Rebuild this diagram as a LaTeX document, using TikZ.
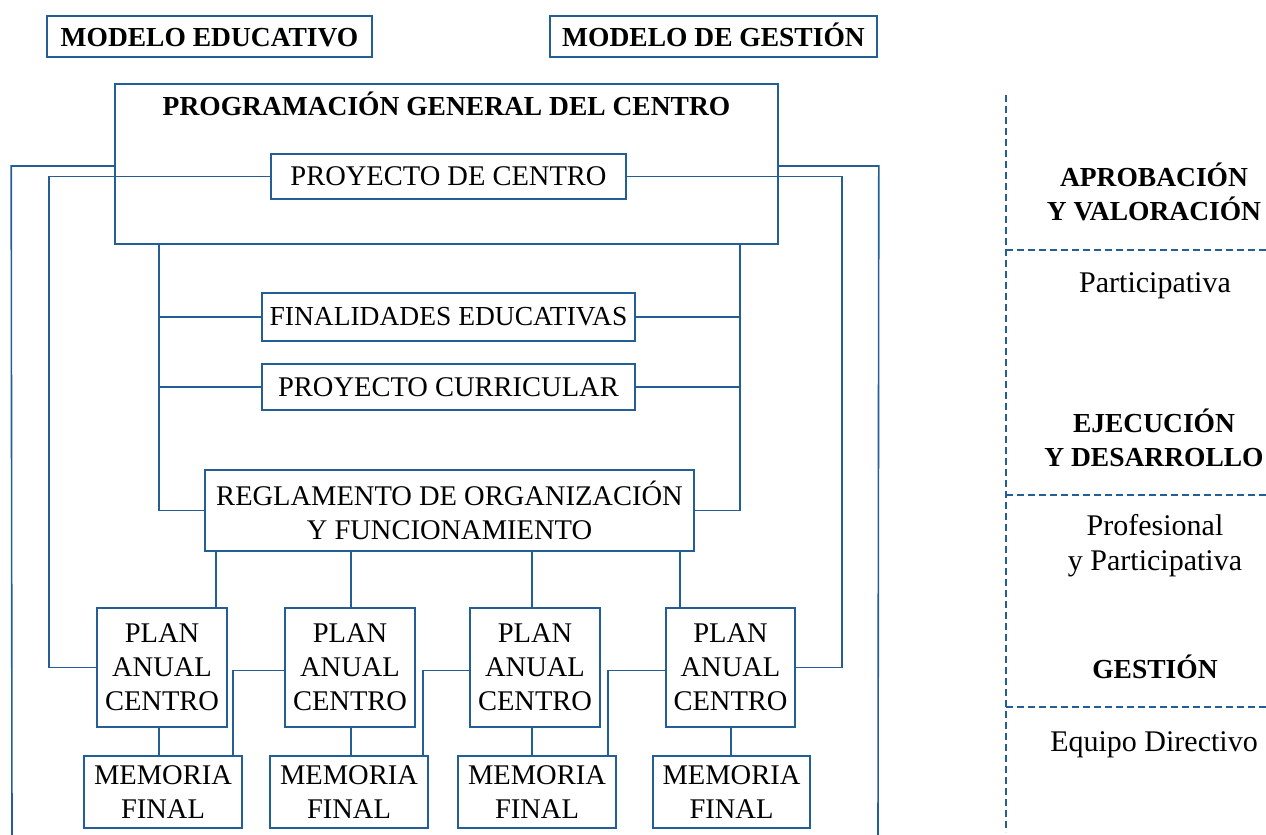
\documentclass[tikz,border=0pt]{standalone}
\usepackage{fontspec}
\setmainfont{Liberation Serif}
\definecolor{lc}{RGB}{36,94,150}
\begin{document}
\begin{tikzpicture}[x=1pt,y=-1pt,
  box/.style={draw=lc,line width=1.6pt,inner sep=0pt,align=center,font=\fontsize{28.5}{34}\selectfont},
  hdr/.style={draw=lc,line width=1.6pt,inner sep=0pt,align=center,text height=19pt,text depth=0pt,font=\fontsize{27.5}{34}\selectfont\bfseries},
  ttl/.style={inner sep=0pt,align=center,font=\fontsize{27.5}{34}\selectfont\bfseries},
  side/.style={inner sep=0pt,align=center,font=\fontsize{27.5}{34}\selectfont\bfseries},
  sidereg/.style={inner sep=0pt,align=center,font=\fontsize{30}{35}\selectfont},
  conn/.style={draw=lc,line width=1.6pt},
  dsh/.style={draw=lc,line width=1.5pt,dash pattern=on 7pt off 4pt},
]
\useasboundingbox (0,0) rectangle (1266,835);

% header boxes
\node[hdr,minimum width=325pt,minimum height=41pt] (me) at (209.5,36.5) {MODELO EDUCATIVO};
\node[hdr,minimum width=327pt,minimum height=41pt] (mg) at (713.5,36.5) {MODELO DE GESTIÓN};

% programacion general
\node[box,minimum width=663pt,minimum height=160pt] (pgc) at (446.5,164) {};
\node[ttl,anchor=base] (pgct) at (446.5,115) {PROGRAMACIÓN GENERAL DEL CENTRO};
\node[box,minimum width=355pt,minimum height=45pt] (pc) at (448.5,176.5) {PROYECTO DE CENTRO};

% documents
\node[box,minimum width=373pt,minimum height=48pt,font=\fontsize{27.5}{34}\selectfont] (fe) at (448.5,317) {FINALIDADES EDUCATIVAS};
\node[box,minimum width=373pt,minimum height=46pt] (pcu) at (448.5,387) {PROYECTO CURRICULAR};
\node[box,minimum width=489pt,minimum height=81pt] (rof) at (449.5,510.5) {REGLAMENTO DE ORGANIZACIÓN\\Y FUNCIONAMIENTO};

% plans
\node[box,minimum width=130pt,minimum height=119pt] (p1) at (162,667.5) {PLAN\\ANUAL\\CENTRO};
\node[box,minimum width=130pt,minimum height=119pt] (p2) at (350,667.5) {PLAN\\ANUAL\\CENTRO};
\node[box,minimum width=130pt,minimum height=119pt] (p3) at (535,667.5) {PLAN\\ANUAL\\CENTRO};
\node[box,minimum width=129pt,minimum height=119pt] (p4) at (730.5,667.5) {PLAN\\ANUAL\\CENTRO};

% memorias
\node[box,minimum width=158pt,minimum height=72pt] (m1) at (163,792) {MEMORIA\\FINAL};
\node[box,minimum width=158pt,minimum height=72pt] (m2) at (349,792) {MEMORIA\\FINAL};
\node[box,minimum width=158pt,minimum height=72pt] (m3) at (537,792) {MEMORIA\\FINAL};
\node[box,minimum width=157pt,minimum height=72pt] (m4) at (731.5,792) {MEMORIA\\FINAL};

% helper coordinates
\coordinate (lb) at (12,835);
\coordinate (rb) at (878,835);
\coordinate (jl) at (159,244);
\coordinate (jr) at (740,244);
\coordinate (a1) at (216,608);
\coordinate (a2) at (351,608);
\coordinate (a3) at (532,608);
\coordinate (a4) at (680,608);
\coordinate (b1) at (159,727);
\coordinate (b2) at (351,727);
\coordinate (b3) at (532,727);
\coordinate (b4) at (731,727);
\coordinate (c1) at (233,756);
\coordinate (c2) at (423,756);
\coordinate (c3) at (608,756);

% outer connectors
\draw[conn] ([yshift=-2pt]pgc.west) -- ++(-103,0) -- (lb);
\draw[conn] ([yshift=-2pt]pgc.east) -- ++(100,0) -- (rb);
\draw[conn] (pc.west) -- ++(-221,0) |- (p1.west);
\draw[conn] (pc.east) -- ++(215,0) |- (p4.east);

% documents
\draw[conn] (jl) -- (jl |- rof.west) -- (rof.west);
\draw[conn] (jl |- fe.west) -- (fe.west);
\draw[conn] (jl |- pcu.west) -- (pcu.west);
\draw[conn] (jr) -- (jr |- rof.east) -- (rof.east);
\draw[conn] (jr |- fe.east) -- (fe.east);
\draw[conn] (jr |- pcu.east) -- (pcu.east);

% reglamento to plans
\draw[conn] (rof.south -| a1) -- (a1);
\draw[conn] (rof.south -| a2) -- (a2);
\draw[conn] (rof.south -| a3) -- (a3);
\draw[conn] (rof.south -| a4) -- (a4);

% plans to memorias
\draw[conn] (b1) -- (b1 |- m1.north);
\draw[conn] (b2) -- (b2 |- m2.north);
\draw[conn] (b3) -- (b3 |- m3.north);
\draw[conn] (b4) -- (b4 |- m4.north);

% cross links
\draw[conn] (c1) |- ([yshift=-3pt]p2.west);
\draw[conn] (c2) |- ([yshift=-3pt]p3.west);
\draw[conn] (c3) |- ([yshift=-3pt]p4.west);

% right panel
\coordinate (dt) at (1006,95);
\coordinate (db) at (1006,832);
\coordinate (h1) at (1006,250);
\coordinate (h2) at (1006,495);
\coordinate (h3) at (1006,707);
\coordinate (e1) at (1266,250);
\coordinate (e2) at (1266,495);
\coordinate (e3) at (1266,707);
\draw[dsh] (dt) -- (db);
\draw[dsh] (h1) -- (e1);
\draw[dsh] (h2) -- (e2);
\draw[dsh] (h3) -- (e3);

\node[side] (apr) at (1154,192) {APROBACIÓN\\Y VALORACIÓN};
\node[sidereg,anchor=base] (par) at (1155,292) {Participativa};
\node[side] (eje) at (1154,438) {EJECUCIÓN\\Y DESARROLLO};
\node[sidereg] (pro) at (1155,546) {Profesional\\y Participativa};
\node[side,anchor=base] (ges) at (1155,678) {GESTIÓN};
\node[sidereg,anchor=base] (equ) at (1154,751) {Equipo Directivo};
\end{tikzpicture}
\end{document}
